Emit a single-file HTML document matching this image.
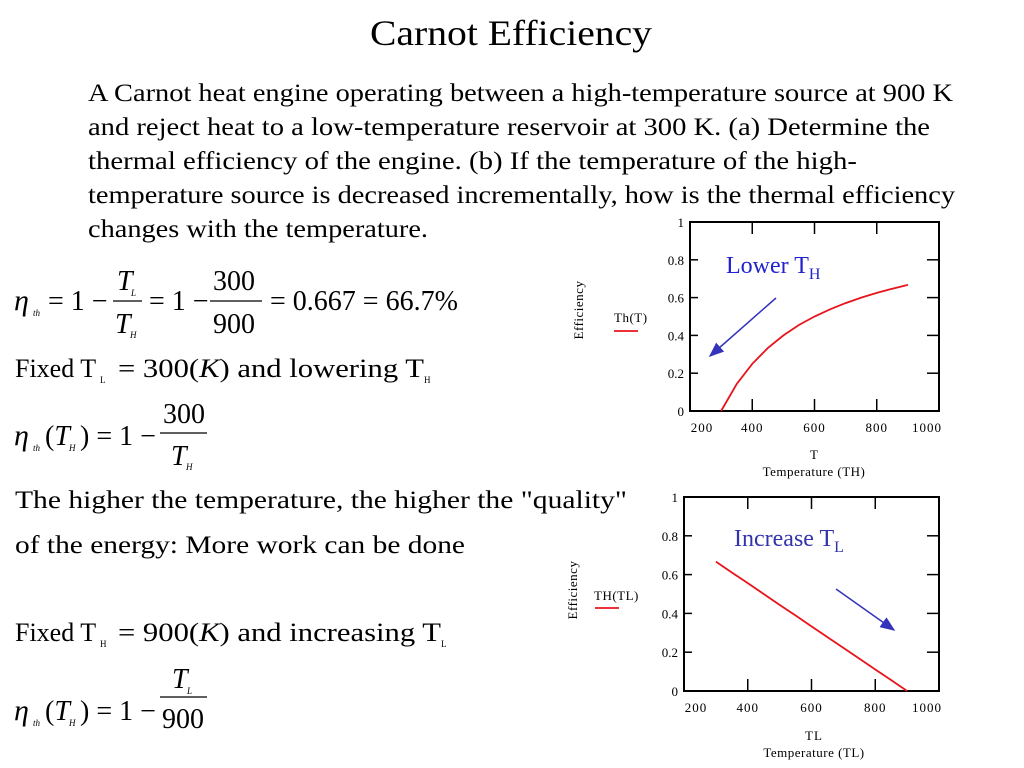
<!DOCTYPE html>
<html><head><meta charset="utf-8"><style>
html,body{margin:0;padding:0;background:#fff;}
svg{display:block;font-family:"Liberation Serif",serif;}
</style></head><body>
<svg id="s" width="1024" height="768" viewBox="0 0 1024 768">
<text x="370" y="45" font-size="36" textLength="282" lengthAdjust="spacingAndGlyphs">Carnot Efficiency</text>
<g font-size="25">
<text x="88" y="101" textLength="865" lengthAdjust="spacingAndGlyphs">A Carnot heat engine operating between a high-temperature source at 900 K</text>
<text x="88" y="135" textLength="842" lengthAdjust="spacingAndGlyphs">and reject heat to a low-temperature reservoir at 300 K.  (a) Determine the</text>
<text x="88" y="169" textLength="769" lengthAdjust="spacingAndGlyphs">thermal efficiency of the engine.  (b) If the temperature of the high-</text>
<text x="88" y="203" textLength="867" lengthAdjust="spacingAndGlyphs">temperature source is decreased incrementally, how is the thermal efficiency</text>
<text x="88" y="237" textLength="340" lengthAdjust="spacingAndGlyphs">changes with the temperature.</text>
</g>
<g font-size="28">
<text x="14" y="310" font-style="italic" font-size="30">η</text><text x="33" y="316" font-size="9" font-style="italic">th</text>
<text x="48" y="310">= 1 −</text>
<text x="117" y="290" font-style="italic">T</text><text x="131" y="296" font-size="9" font-style="italic">L</text>
<line x1="113" y1="301" x2="142" y2="301" stroke="#000" stroke-width="1.2"/>
<text x="115" y="333" font-style="italic">T</text><text x="130" y="338" font-size="9" font-style="italic">H</text>
<text x="149" y="310">= 1 −</text>
<text x="213" y="290">300</text>
<line x1="210" y1="301" x2="262" y2="301" stroke="#000" stroke-width="1.2"/>
<text x="213" y="333">900</text>
<text x="270" y="310">= 0.667 = 66.7%</text>
</g>
<g font-size="26">
<text x="15" y="377">Fixed T</text><text x="100" y="383" font-size="9">L</text>
<text x="118" y="377" textLength="306" lengthAdjust="spacingAndGlyphs">= 300(<tspan font-style="italic">K</tspan>) and lowering T</text><text x="424" y="383" font-size="9">H</text>
</g>
<g font-size="28">
<text x="14" y="445" font-style="italic" font-size="30">η</text><text x="33" y="451" font-size="9" font-style="italic">th</text>
<text x="45" y="445">(<tspan font-style="italic">T</tspan></text><text x="69" y="451" font-size="9" font-style="italic">H</text>
<text x="80" y="445">) = 1 −</text>
<text x="163" y="423">300</text>
<line x1="160" y1="433" x2="207" y2="433" stroke="#000" stroke-width="1.2"/>
<text x="171" y="465" font-style="italic">T</text><text x="186" y="470" font-size="9" font-style="italic">H</text>
</g>
<g font-size="25">
<text x="15" y="508" textLength="612" lengthAdjust="spacingAndGlyphs">The higher the temperature, the higher the "quality"</text>
<text x="15" y="553" textLength="450" lengthAdjust="spacingAndGlyphs">of the energy: More work can be done</text>
</g>
<g font-size="26">
<text x="15" y="641">Fixed T</text><text x="100" y="647" font-size="9">H</text>
<text x="118" y="641" textLength="323" lengthAdjust="spacingAndGlyphs">= 900(<tspan font-style="italic">K</tspan>) and increasing T</text><text x="441" y="647" font-size="9">L</text>
</g>
<g font-size="28">
<text x="14" y="720" font-style="italic" font-size="30">η</text><text x="33" y="726" font-size="9" font-style="italic">th</text>
<text x="45" y="720">(<tspan font-style="italic">T</tspan></text><text x="69" y="726" font-size="9" font-style="italic">H</text>
<text x="80" y="720">) = 1 −</text>
<text x="172" y="688" font-style="italic">T</text><text x="187" y="694" font-size="9" font-style="italic">L</text>
<line x1="160" y1="697" x2="207" y2="697" stroke="#000" stroke-width="1.2"/>
<text x="162" y="728">900</text>
</g>
<g id="c1"></g>
<g id="c2"></g>
</svg>
<script>
const xTicks = [200, 400, 600, 800, 1000];
const yTicks = [0, 0.2, 0.4, 0.6, 0.8, 1];
const yTickLabels = ["0", "0.2", "0.4", "0.6", "0.8", "1"];
const thT = [300, 350, 400, 450, 500, 550, 600, 650, 700, 750, 800, 850, 900];
const thEff = [0, 0.143, 0.25, 0.333, 0.4, 0.455, 0.5, 0.538, 0.571, 0.6, 0.625, 0.647, 0.667];
const tlT = [300, 350, 400, 450, 500, 550, 600, 650, 700, 750, 800, 850, 900];
const tlEff = [0.667, 0.611, 0.556, 0.5, 0.444, 0.389, 0.333, 0.278, 0.222, 0.167, 0.111, 0.056, 0];
const NS = "http://www.w3.org/2000/svg";
function mk(parent, tag, attrs, txt){const e=document.createElementNS(NS,tag);for(const k in attrs)e.setAttribute(k,attrs[k]);if(txt!==undefined)e.textContent=txt;parent.appendChild(e);return e;}
function chart(g, box, xs, ys){
  const X=v=>box.l+(v-200)/800*(box.r-box.l);
  const Y=v=>box.b-v*(box.b-box.t);
  const fr=mk(g,'rect',{x:box.l,y:box.t,width:box.r-box.l,height:box.b-box.t,fill:'none',stroke:'#000','stroke-width':2});
  
  
  xTicks.forEach(v=>{
    if(v>200&&v<1000){
      const t1=mk(g,'line',{x1:X(v),y1:box.t,x2:X(v),y2:box.t+12,stroke:'#000','stroke-width':1.5});
      
      
      const t2=mk(g,'line',{x1:X(v),y1:box.b,x2:X(v),y2:box.b-12,stroke:'#000','stroke-width':1.5});
      
      
    }
    const lb=mk(g,'text',{x:X(v)+(v===200?12:v===1000?-12:0),y:box.b+21,'font-size':13,'text-anchor':'middle','letter-spacing':'1'},String(v));
    
    
  });
  yTicks.forEach((v,i)=>{
    if(v>0&&v<1){
      const t1=mk(g,'line',{x1:box.l,y1:Y(v),x2:box.l+8,y2:Y(v),stroke:'#000','stroke-width':1.5});
      
      
      const t2=mk(g,'line',{x1:box.r,y1:Y(v),x2:box.r-12,y2:Y(v),stroke:'#000','stroke-width':1.5});
      
      
    }
    const lb=mk(g,'text',{x:box.l-6,y:Y(v)+5,'font-size':13,'text-anchor':'end'},yTickLabels[i]);
    
    
  });
  const pts=xs.map((v,i)=>X(v).toFixed(1)+','+Y(ys[i]).toFixed(1)).join(' ');
  const pl=mk(g,'polyline',{points:pts,fill:'none',stroke:'#e8141c','stroke-width':1.8});
  
  
}
const c1=document.getElementById('c1'), c2=document.getElementById('c2');
chart(c1,{l:690,r:939,t:222,b:411},thT,thEff);
chart(c2,{l:684,r:939,t:497,b:691},tlT,tlEff);
</script>
<script>
const s=document.getElementById('s');
s.insertAdjacentHTML('beforeend',`
<defs><marker id="ah" markerWidth="10" markerHeight="8" refX="9" refY="4" orient="auto"><path d="M0,0 L10,4 L0,8 z" fill="#3333bb"/></marker></defs>
<g>
<text x="814" y="459" font-size="13" text-anchor="middle">T</text>
<text x="814" y="476" font-size="13" text-anchor="middle" letter-spacing="0.5">Temperature (TH)</text>
<text transform="translate(583,310) rotate(-90)" font-size="13" text-anchor="middle" letter-spacing="0.5">Efficiency</text>
<text x="614" y="322" font-size="13" letter-spacing="0.5">Th(T)</text>
<line x1="614" y1="331" x2="638" y2="331" stroke="#e8141c" stroke-width="1.8"/>
<text x="726" y="273" font-size="24" fill="#2222cc">Lower T<tspan font-size="16" dy="6">H</tspan></text>
<line x1="776" y1="298" x2="710" y2="356" stroke="#3333bb" stroke-width="1.5" marker-end="url(#ah)"/>
</g>
<g>
<text x="814" y="740" font-size="13" text-anchor="middle" letter-spacing="1">TL</text>
<text x="814" y="757" font-size="13" text-anchor="middle" letter-spacing="0.5">Temperature (TL)</text>
<text transform="translate(577,590) rotate(-90)" font-size="13" text-anchor="middle" letter-spacing="0.5">Efficiency</text>
<text x="594" y="600" font-size="13" letter-spacing="0.5">TH(TL)</text>
<line x1="595" y1="608" x2="619" y2="608" stroke="#e8141c" stroke-width="1.8"/>
<text x="734" y="546" font-size="24" fill="#3333aa">Increase T<tspan font-size="16" dy="6">L</tspan></text>
<line x1="836" y1="589" x2="894" y2="630" stroke="#3333bb" stroke-width="1.5" marker-end="url(#ah)"/>
</g>`);
</script>
</body></html>
